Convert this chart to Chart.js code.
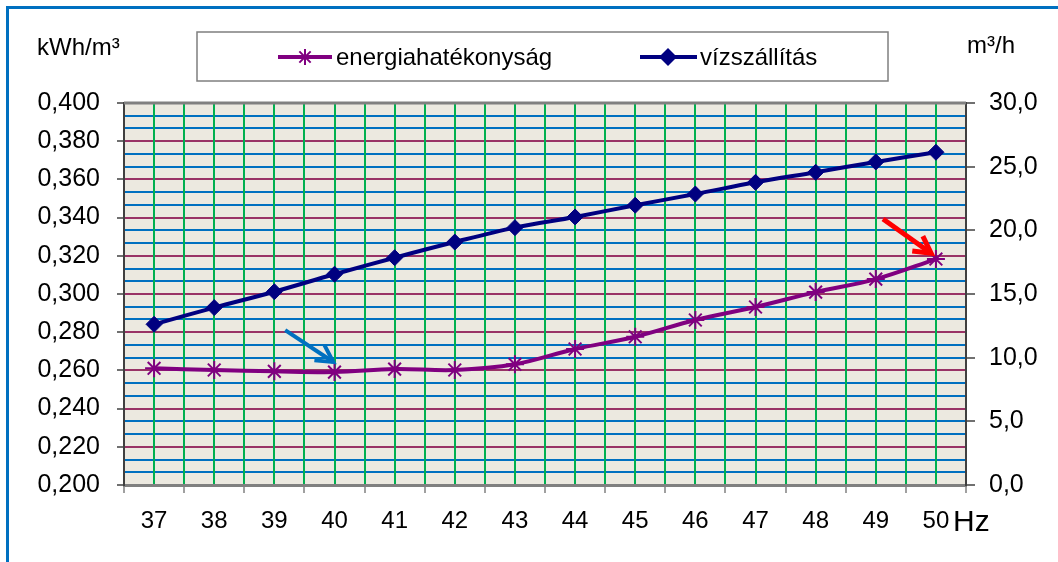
<!DOCTYPE html>
<html>
<head>
<meta charset="utf-8">
<script src="https://cdn.jsdelivr.net/npm/chart.js@4/dist/chart.umd.min.js"></script>
<style>
html,body{margin:0;padding:0;background:#fff;}
#wrap{width:1058px;height:562px;position:relative;}
</style>
</head>
<body>
<div id="wrap"><canvas id="c"></canvas></div>
<script>
// ---- data ----
const frequencies = [37, 38, 39, 40, 41, 42, 43, 44, 45, 46, 47, 48, 49, 50];
const efficiency = [0.2611, 0.2602, 0.2595, 0.2591, 0.2607, 0.2602, 0.2632, 0.2712, 0.2776, 0.2864, 0.2932, 0.3010, 0.3078, 0.3183];
const flowRate = [12.62, 13.93, 15.18, 16.55, 17.85, 19.08, 20.21, 21.05, 21.97, 22.85, 23.77, 24.56, 25.37, 26.13];
const leftTickLabels = ['0,200', '0,220', '0,240', '0,260', '0,280', '0,300', '0,320', '0,340', '0,360', '0,380', '0,400'];
const rightTickLabels = ['0,0', '5,0', '10,0', '15,0', '20,0', '25,0', '30,0'];
const seriesNames = ['energiahatékonyság', 'vízszállítás'];
const leftUnit = 'kWh/m³';
const rightUnit = 'm³/h';
const xUnit = 'Hz';
// annotation arrows, in data coordinates [frequency, kWh/m³]
const arrowBlueFrom = [39.18, 0.2811];
const arrowBlueTo = [39.98, 0.2644];
const arrowRedFrom = [49.12, 0.3393];
const arrowRedTo = [49.92, 0.3213];

const FONT = '"Liberation Sans", Arial, sans-serif';
const PURPLE = '#800080';
const NAVY = '#000080';

const effPoints = frequencies.map((f, i) => ({x: f, y: efficiency[i]}));
const flowPoints = frequencies.map((f, i) => ({x: f, y: flowRate[i]}));

function drawArrow(ctx, x0, y0, x1, y1, color, w) {
  const ang = Math.atan2(y1 - y0, x1 - x0);
  const hl = 19, ha = 0.5;
  ctx.save();
  ctx.strokeStyle = color;
  ctx.lineWidth = w;
  ctx.lineCap = 'butt';
  ctx.lineJoin = 'miter';
  ctx.beginPath();
  ctx.moveTo(x0, y0);
  ctx.lineTo(x1, y1);
  ctx.stroke();
  ctx.beginPath();
  ctx.moveTo(x1 - hl * Math.cos(ang - ha), y1 - hl * Math.sin(ang - ha));
  ctx.lineTo(x1, y1);
  ctx.lineTo(x1 - hl * Math.cos(ang + ha), y1 - hl * Math.sin(ang + ha));
  ctx.stroke();
  ctx.restore();
}

const decor = {
  id: 'decor',
  beforeDraw(chart) {
    const {ctx, chartArea: a} = chart;
    ctx.save();
    ctx.fillStyle = '#ffffff';
    ctx.fillRect(0, 0, chart.width, chart.height);
    ctx.fillStyle = '#ECE9E0';
    ctx.fillRect(a.left, a.top, a.right - a.left, a.bottom - a.top);
    ctx.strokeStyle = '#0070C0';
    ctx.lineWidth = 3;
    ctx.beginPath();
    ctx.moveTo(7.5, chart.height + 5);
    ctx.lineTo(7.5, 7.5);
    ctx.lineTo(chart.width + 5, 7.5);
    ctx.stroke();
    ctx.restore();
  },
  afterDatasetsDraw(chart) {
    const {ctx} = chart;
    const xs = chart.scales.x, ys = chart.scales.y;
    drawArrow(ctx, xs.getPixelForValue(arrowBlueFrom[0]), ys.getPixelForValue(arrowBlueFrom[1]),
      xs.getPixelForValue(arrowBlueTo[0]), ys.getPixelForValue(arrowBlueTo[1]), '#0070C0', 4);
    drawArrow(ctx, xs.getPixelForValue(arrowRedFrom[0]), ys.getPixelForValue(arrowRedFrom[1]),
      xs.getPixelForValue(arrowRedTo[0]), ys.getPixelForValue(arrowRedTo[1]), '#FF0000', 5);
  },
  afterDraw(chart) {
    const {ctx, chartArea: a} = chart;
    ctx.save();
    ctx.strokeStyle = '#808080';
    ctx.lineWidth = 3;
    ctx.beginPath();
    ctx.moveTo(a.left, a.top);
    ctx.lineTo(a.right, a.top);
    ctx.stroke();
    // legend box
    ctx.strokeStyle = '#7f7f7f';
    ctx.lineWidth = 1.5;
    ctx.strokeRect(197, 32, 691, 49);
    const ly = 57;
    ctx.strokeStyle = PURPLE;
    ctx.lineWidth = 4;
    ctx.beginPath(); ctx.moveTo(278, ly); ctx.lineTo(332, ly); ctx.stroke();
    ctx.lineWidth = 2;
    const r = 8;
    ctx.beginPath();
    ctx.moveTo(305 - r, ly); ctx.lineTo(305 + r, ly);
    ctx.moveTo(305, ly - r); ctx.lineTo(305, ly + r);
    const d = r * 0.7071;
    ctx.moveTo(305 - d, ly - d); ctx.lineTo(305 + d, ly + d);
    ctx.moveTo(305 - d, ly + d); ctx.lineTo(305 + d, ly - d);
    ctx.stroke();
    ctx.strokeStyle = NAVY;
    ctx.lineWidth = 4;
    ctx.beginPath(); ctx.moveTo(640, ly); ctx.lineTo(697, ly); ctx.stroke();
    ctx.fillStyle = NAVY;
    ctx.beginPath();
    ctx.moveTo(668, ly - 9); ctx.lineTo(677, ly); ctx.lineTo(668, ly + 9); ctx.lineTo(659, ly);
    ctx.closePath(); ctx.fill();
    ctx.fillStyle = '#000';
    ctx.font = '24px ' + FONT;
    ctx.textBaseline = 'middle';
    ctx.textAlign = 'left';
    ctx.fillText(seriesNames[0], 336, ly + 1);
    ctx.fillText(seriesNames[1], 700, ly + 1);
    ctx.textBaseline = 'alphabetic';
    ctx.fillText(leftUnit, 37, 55);
    ctx.fillText(rightUnit, 967, 53);
    ctx.font = '30px ' + FONT;
    ctx.fillText(xUnit, 953, 531);
    ctx.restore();
  }
};

const chart = new Chart(document.getElementById('c'), {
  type: 'line',
  data: {
    datasets: [
      {
        label: seriesNames[0],
        data: effPoints,
        yAxisID: 'y',
        borderColor: PURPLE,
        backgroundColor: PURPLE,
        borderWidth: 4,
        pointStyle: 'star',
        pointRadius: 9,
        pointBorderWidth: 2,
        pointBorderColor: PURPLE,
        tension: 0.35,
        fill: false
      },
      {
        label: seriesNames[1],
        data: flowPoints,
        yAxisID: 'y1',
        borderColor: NAVY,
        backgroundColor: NAVY,
        borderWidth: 4,
        pointStyle: 'rectRot',
        pointRadius: 8,
        pointBorderWidth: 1,
        pointBorderColor: NAVY,
        tension: 0.35,
        fill: false
      }
    ]
  },
  options: {
    responsive: true,
    maintainAspectRatio: false,
    animation: false,
    devicePixelRatio: 1,
    layout: {padding: {top: 103, left: 0, right: 0, bottom: 0}},
    plugins: {legend: {display: false}, tooltip: {enabled: false}},
    scales: {
      x: {
        type: 'linear',
        min: frequencies[0] - 0.5,
        max: frequencies[frequencies.length - 1] + 0.5,
        afterFit(s) { s.height = 77; },
        border: {color: '#808080', width: 3},
        grid: {
          z: -1,
          color: '#00B050',
          lineWidth: 2,
          tickLength: 8,
          tickWidth: 1.5,
          tickColor: (c) => (c.tick && !Number.isInteger(c.tick.value)) ? '#808080' : 'rgba(0,0,0,0)'
        },
        ticks: {
          stepSize: 0.5,
          autoSkip: false,
          maxRotation: 0,
          padding: 14,
          color: '#000',
          font: {family: FONT, size: 24},
          callback: (v) => {
            const i = frequencies.indexOf(v);
            return i >= 0 ? String(frequencies[i]) : '';
          }
        }
      },
      y: {
        position: 'left',
        min: 0.2,
        max: 0.4,
        afterFit(s) { s.width = 124; },
        border: {color: '#404040', width: 2},
        grid: {
          z: -2,
          color: '#993366',
          lineWidth: 2,
          tickLength: 7,
          tickColor: '#404040',
          tickWidth: 1.5
        },
        ticks: {
          stepSize: 0.02,
          autoSkip: false,
          padding: 17,
          color: '#000',
          font: {family: FONT, size: 25},
          callback: (v, i) => leftTickLabels[i]
        }
      },
      y1: {
        position: 'right',
        min: 0,
        max: 30,
        afterFit(s) { s.width = 92; },
        border: {color: '#404040', width: 2},
        grid: {
          z: -3,
          color: '#0070C0',
          lineWidth: 2,
          tickLength: 9,
          tickWidth: 1.5,
          tickColor: (c) => (c.tick && Math.round(c.tick.value) % 5 === 0) ? '#404040' : 'rgba(0,0,0,0)'
        },
        ticks: {
          stepSize: 1,
          autoSkip: false,
          padding: 14,
          color: '#000',
          font: {family: FONT, size: 25},
          callback: (v) => {
            const r = Math.round(v);
            return r % 5 === 0 ? rightTickLabels[r / 5] : '';
          }
        }
      }
    }
  },
  plugins: [decor]
});
</script>
</body>
</html>
